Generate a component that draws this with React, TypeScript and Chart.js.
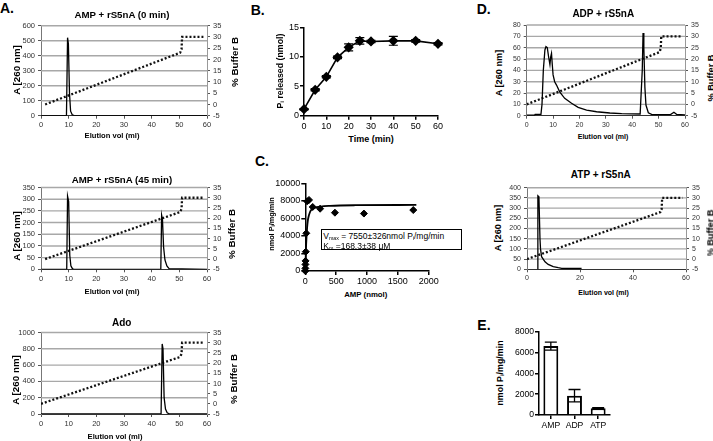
import React, { useEffect, useRef } from 'react';
import { Chart, registerables } from 'chart.js';

Chart.register(...registerables);

const FONT = "'Liberation Sans', Arial, Helvetica, sans-serif";

// ---------- data ----------
// Buffer B gradient (% Buffer B vs elution volume)
const bufferVolA = [1.5, 50.3, 50.8, 51, 58.7];
const bufferVol = [0, 50.3, 50.8, 51, 58.7];
const bufferPct = [0, 23, 24.5, 30, 30];

// A: AMP + rS5nA (0 min)
const amp0Vol = [0, 9.2, 9.6, 9.9, 10.3, 10.7, 11.3, 12, 60];
const amp0Abs = [0, 0, 520, 480, 150, 30, 6, 0, 0];

// A: AMP + rS5nA (45 min)
const amp45Vol = [0, 9.3, 9.6, 10.0, 10.4, 10.8, 11.4, 12, 43.3, 43.6, 43.9, 44.3, 44.8, 45.5, 46.3, 60];
const amp45Abs = [0, 0, 313, 290, 60, 15, 2, 0, 0, 232, 215, 96, 40, 14, 3, 0];

// A: Ado
const adoVol = [0, 43.4, 43.8, 44.1, 44.5, 45.0, 45.6, 46.5, 60];
const adoAbs = [0, 0, 860, 800, 200, 60, 15, 0, 0];

// D: ADP + rS5nA
const adpVol = [0, 3, 3.2, 5.4, 5.8, 6.3, 6.9, 7.3, 7.8, 8.3, 8.8, 9.1, 9.4, 9.7, 10, 10.6, 11.3, 12.5, 14.4, 17, 19.5, 22.7, 26.5, 31.5, 36, 43, 43.8, 44.1, 44.4, 44.8, 45.2, 46.1, 47.5, 54.5, 55.8, 56.8, 60];
const adpAbs = [0.5, 0.5, 1.2, 1.2, 10, 40, 58, 61, 60, 52, 45, 52, 55, 45, 36, 30, 27, 21, 15.3, 11, 7.4, 5, 3.5, 2.4, 1.8, 1.5, 40, 73, 60, 25, 9.4, 2.6, 1, 1, 3, 1.2, 0.8];

// D: ATP + rS5nA
const atpVol = [4.0, 4.1, 4.5, 4.9, 5.1, 5.5, 6.8, 8.0, 9.9, 11.8, 13.1, 15, 20.6];
const atpAbs = [0, 360, 355, 150, 100, 62, 37, 24, 13, 8, 5, 4, 4];

// B: Pi released vs time
const timeMin = [0, 5, 10, 15, 20, 25, 30, 40, 50, 60];
const piReleased = [1.1, 4.4, 6.6, 9.9, 11.6, 12.7, 12.6, 12.7, 12.7, 12.2];
const piErr = [0.1, 0.2, 0.2, 0.2, 0.6, 0.55, 0.2, 0.75, 0.2, 0.2];

// C: rate vs AMP
const ampConc = [0, 1, 2, 4, 8, 16, 30, 60, 120, 240, 480, 950, 1750];
const rate = [0, 300, 750, 1150, 2200, 4300, 7950, 8100, 7300, 7100, 6650, 6550, 6950];
const fitConc = [0, 5, 10, 20, 30, 40, 50, 75, 100, 150, 250, 400, 800, 1800];
const fitRate = [0, 1200, 2400, 3900, 5000, 5700, 6100, 6700, 7000, 7200, 7350, 7430, 7500, 7530];

// E: activity per nucleotide
const nucleotides = ['AMP', 'ADP', 'ATP'];
const activity = [6620, 1860, 640];
const activityErr = [380, 590, 60];

// ---------- helpers ----------
type Area = { x0: number; y0: number; x1: number; y1: number };
type Box = { left: number; top: number; width: number; height: number };

function dims(area: Area, box: Box) {
  return {
    leftW: area.x0 - box.left,
    rightW: box.left + box.width - area.x1,
    topPad: area.y0 - box.top,
    bottomH: box.top + box.height - area.y1,
  };
}

const plain = (v: any) => String(v);

const errorBars = {
  id: 'errorBars',
  afterDatasetsDraw(chart: any) {
    const ctx = chart.ctx;
    chart.data.datasets.forEach((ds: any, di: number) => {
      if (!ds.errors) return;
      const meta = chart.getDatasetMeta(di);
      const ys = chart.scales[meta.yAxisID];
      ctx.save();
      ctx.strokeStyle = '#000';
      ctx.lineWidth = ds.errLineWidth || 1.2;
      meta.data.forEach((el: any, i: number) => {
        const e = ds.errors[i];
        if (!e) return;
        const raw = ds.data[i];
        const v = typeof raw === 'number' ? raw : raw.y;
        const yt = ys.getPixelForValue(v + e);
        const yb = ys.getPixelForValue(v - e);
        const x = el.x;
        const c = ds.capHalf || 4;
        ctx.beginPath();
        ctx.moveTo(x, yt); ctx.lineTo(x, yb);
        ctx.moveTo(x - c, yt); ctx.lineTo(x + c, yt);
        ctx.moveTo(x - c, yb); ctx.lineTo(x + c, yb);
        ctx.stroke();
      });
      ctx.restore();
    });
  },
};

// horizontal gridlines at the left-axis ticks (Excel style)
const hGrid = {
  id: 'hGrid',
  beforeDatasetsDraw(chart: any) {
    const ys = chart.scales.y;
    const a = chart.chartArea;
    const ctx = chart.ctx;
    ctx.save();
    ctx.strokeStyle = '#a8a8a8';
    ctx.lineWidth = 1.4;
    ys.ticks.forEach((t: any) => {
      if (t.value === ys.min) return;
      const y = ys.getPixelForValue(t.value);
      ctx.beginPath();
      ctx.moveTo(a.left, y);
      ctx.lineTo(a.right, y);
      ctx.stroke();
    });
    ctx.restore();
  },
};

const baseOpts = {
  responsive: false,
  animation: false,
  events: [],
  plugins: { legend: { display: false }, tooltip: { enabled: false }, title: { display: false } },
};

function excelChart(area: Area, box: Box, yMax: number, yStep: number, xStep: number,
  vol: number[], abs: number[], bVol: number[], bPct: number[], fs: number) {
  const d = dims(area, box);
  const tf = { family: FONT, size: fs };
  return {
    type: 'line',
    data: {
      datasets: [
        { data: vol.map((v, i) => ({ x: v, y: abs[i] })), borderColor: '#000', borderWidth: 1.3, pointRadius: 0, yAxisID: 'y', tension: 0, fill: false },
        { data: bVol.map((v, i) => ({ x: v, y: bPct[i] })), borderColor: '#111', borderWidth: 2.3, borderDash: [2, 2], pointRadius: 0, yAxisID: 'y2', tension: 0, fill: false },
      ],
    },
    options: {
      ...baseOpts,
      layout: { padding: { top: d.topPad, left: 0, right: 0, bottom: 0 } },
      scales: {
        x: {
          type: 'linear', min: 0, max: 60,
          ticks: { stepSize: xStep, color: '#333', font: tf, padding: 2, maxRotation: 0, autoSkip: false, callback: plain },
          grid: { drawOnChartArea: false, tickLength: 3, color: '#555' },
          border: { color: '#333', width: 1 },
          afterFit: (s: any) => { s.height = d.bottomH; },
        },
        y: {
          type: 'linear', position: 'left', min: 0, max: yMax,
          ticks: { stepSize: yStep, color: '#333', font: tf, padding: 3, autoSkip: false, callback: plain },
          grid: { drawOnChartArea: false, tickLength: 3, color: '#555' },
          border: { color: '#777', width: 1 },
          afterFit: (s: any) => { s.width = d.leftW; },
        },
        y2: {
          type: 'linear', position: 'right', min: -5, max: 35,
          ticks: { stepSize: 5, color: '#333', font: tf, padding: 3, autoSkip: false, callback: plain },
          grid: { drawOnChartArea: false, tickLength: 3, color: '#555' },
          border: { color: '#999', width: 1 },
          afterFit: (s: any) => { s.width = d.rightW; },
        },
      },
    },
    plugins: [hGrid],
  };
}

function prismAxes(d: any, x: any, y: any, fs: number) {
  const tf = { family: FONT, size: fs };
  return {
    x: {
      ...x,
      ticks: { color: '#000', font: tf, padding: 1, maxRotation: 0, autoSkip: false, ...(x.ticks || {}) },
      grid: { drawOnChartArea: false, tickLength: 4, color: '#000', lineWidth: 1.5, ...(x.grid || {}) },
      border: { color: '#000', width: 1.5 },
      afterFit: (s: any) => { s.height = d.bottomH; },
    },
    y: {
      ...y,
      ticks: { color: '#000', font: tf, padding: 1, autoSkip: false, callback: plain, ...(y.ticks || {}) },
      grid: { drawOnChartArea: false, tickLength: 4, color: '#000', lineWidth: 1.5 },
      border: { color: '#000', width: 1.5 },
      afterFit: (s: any) => { s.width = d.leftW; },
    },
  };
}

// ---------- panels ----------
const boxA0: Box = { left: 18, top: 17, width: 212, height: 113 };
const areaA0: Area = { x0: 41, y0: 25.7, x1: 207, y1: 115.7 };
const boxA45: Box = { left: 18, top: 180, width: 212, height: 106 };
const areaA45: Area = { x0: 41, y0: 187.3, x1: 207, y1: 269.3 };
const boxAdo: Box = { left: 18, top: 325, width: 212, height: 105 };
const areaAdo: Area = { x0: 41, y0: 332.3, x1: 207, y1: 414 };
const boxADP: Box = { left: 508, top: 17, width: 198, height: 113 };
const areaADP: Area = { x0: 526.7, y0: 25, x1: 685, y1: 115.7 };
const boxATP: Box = { left: 508, top: 180, width: 198, height: 106 };
const areaATP: Area = { x0: 527, y0: 187.7, x1: 686, y1: 269.3 };
const boxB: Box = { left: 284, top: 18, width: 162, height: 114 };
const areaB: Area = { x0: 304, y0: 27.3, x1: 438, y1: 115.7 };
const boxC: Box = { left: 270, top: 175, width: 173, height: 112 };
const areaC: Area = { x0: 305.3, y0: 183.3, x1: 428.7, y1: 271 };
const boxE: Box = { left: 510, top: 324, width: 108, height: 110 };
const areaE: Area = { x0: 539, y0: 331.7, x1: 610, y1: 415 };

function configB() {
  const d = dims(areaB, boxB);
  return {
    type: 'line',
    data: {
      datasets: [{
        data: timeMin.map((t, i) => ({ x: t, y: piReleased[i] })),
        errors: piErr, capHalf: 4.5, errLineWidth: 1.2,
        borderColor: '#000', borderWidth: 1.6, pointStyle: 'rectRot', pointRadius: 4,
        pointBackgroundColor: '#000', pointBorderColor: '#000', tension: 0, fill: false,
      }],
    },
    options: {
      ...baseOpts,
      clip: false,
      layout: { padding: { top: d.topPad, left: 0, right: d.rightW, bottom: 0 } },
      scales: prismAxes(d, { type: 'linear', min: 0, max: 60, ticks: { stepSize: 10, callback: plain } }, { min: 0, max: 15, ticks: { stepSize: 5 } }, 9),
    },
    plugins: [errorBars],
  };
}

function configC() {
  const d = dims(areaC, boxC);
  return {
    type: 'scatter',
    data: {
      datasets: [
        {
          data: ampConc.map((c, i) => ({ x: c, y: rate[i] })),
          pointStyle: 'rectRot', pointRadius: 3.5, pointBackgroundColor: '#000', pointBorderColor: '#000', showLine: false,
        },
        {
          data: fitConc.map((c, i) => ({ x: c, y: fitRate[i] })),
          showLine: true, borderColor: '#000', borderWidth: 1.8, pointRadius: 0, cubicInterpolationMode: 'monotone',
        },
      ],
    },
    options: {
      ...baseOpts,
      clip: false,
      layout: { padding: { top: d.topPad, left: 0, right: d.rightW, bottom: 0 } },
      scales: prismAxes(d, { type: 'linear', min: 0, max: 2000, ticks: { stepSize: 500, callback: plain } }, { min: 0, max: 10000, ticks: { stepSize: 2000 } }, 9),
    },
  };
}

function configE() {
  const d = dims(areaE, boxE);
  return {
    type: 'bar',
    data: {
      labels: nucleotides,
      datasets: [{
        data: activity, errors: activityErr, capHalf: 6, errLineWidth: 1.3,
        backgroundColor: '#fff', borderColor: '#000', borderWidth: 2,
        barPercentage: 0.63, categoryPercentage: 1,
      }],
    },
    options: {
      ...baseOpts,
      layout: { padding: { top: d.topPad, left: 0, right: d.rightW, bottom: 0 } },
      scales: prismAxes(d, { type: 'category', ticks: { padding: 1 }, grid: { offset: false } }, { min: 0, max: 8000, ticks: { stepSize: 2000 } }, 8.6),
    },
    plugins: [errorBars],
  };
}

function ChartCanvas({ box, make }: { box: Box; make: () => any }) {
  const ref = useRef<HTMLCanvasElement>(null);
  useEffect(() => {
    const chart = new Chart(ref.current as HTMLCanvasElement, make());
    return () => chart.destroy();
  }, []);
  return (
    <canvas
      ref={ref}
      width={box.width}
      height={box.height}
      style={{ position: 'absolute', left: box.left, top: box.top, width: box.width, height: box.height }}
    />
  );
}

function T({ x, y, size, bold = true, rot = false, children }: any) {
  return (
    <div
      style={{
        position: 'absolute', left: x, top: y,
        transform: `translate(-50%, -50%)${rot ? ' rotate(-90deg)' : ''}`,
        fontSize: size, fontWeight: bold ? 700 : 400, lineHeight: 1,
        whiteSpace: 'nowrap', color: '#000', fontFamily: FONT,
      }}
    >
      {children}
    </div>
  );
}

function Letter({ x, y, children }: any) {
  return (
    <div style={{ position: 'absolute', left: x, top: y - 1.8, fontSize: 14, fontWeight: 700, lineHeight: 1, fontFamily: FONT, color: '#000' }}>
      {children}
    </div>
  );
}

const subStyle: React.CSSProperties = { fontSize: '0.62em', verticalAlign: 'baseline', position: 'relative', top: '0.25em', lineHeight: 0 };

export default function App() {
  return (
    <div style={{ position: 'fixed', left: 0, top: 0, width: 713, height: 441, background: '#fff', overflow: 'hidden', fontFamily: FONT }}>
      <ChartCanvas box={boxA0} make={() => excelChart(areaA0, boxA0, 600, 100, 10, amp0Vol, amp0Abs, bufferVolA, bufferPct, 7.5)} />
      <ChartCanvas box={boxA45} make={() => excelChart(areaA45, boxA45, 350, 50, 10, amp45Vol, amp45Abs, bufferVolA, bufferPct, 7.5)} />
      <ChartCanvas box={boxAdo} make={() => excelChart(areaAdo, boxAdo, 1000, 200, 10, adoVol, adoAbs, bufferVol, bufferPct, 7.5)} />
      <ChartCanvas box={boxADP} make={() => excelChart(areaADP, boxADP, 80, 10, 10, adpVol, adpAbs, bufferVol, bufferPct, 7)} />
      <ChartCanvas box={boxATP} make={() => excelChart(areaATP, boxATP, 400, 50, 20, atpVol, atpAbs, bufferVol, bufferPct, 7)} />
      <ChartCanvas box={boxB} make={configB} />
      <ChartCanvas box={boxC} make={configC} />
      <ChartCanvas box={boxE} make={configE} />

      {/* panel letters */}
      <Letter x={0} y={3.3}>A.</Letter>
      <Letter x={250.7} y={5}>B.</Letter>
      <Letter x={255} y={156}>C.</Letter>
      <Letter x={476.7} y={4}>D.</Letter>
      <Letter x={477.3} y={319.3}>E.</Letter>

      {/* A titles */}
      <T x={122} y={15} size={9.7}>AMP + rS5nA (0 min)</T>
      <T x={122} y={179.5} size={9.7}>AMP + rS5nA (45 min)</T>
      <T x={121.7} y={322.5} size={10}>Ado</T>
      <T x={112} y={136} size={7.6}>Elution vol (ml)</T>
      <T x={112} y={292} size={7.6}>Elution vol (ml)</T>
      <T x={115} y={436.5} size={7.6}>Elution vol (ml)</T>
      <T x={16.7} y={70} size={9.8} rot>A [260 nm]</T>
      <T x={16.7} y={236} size={9.8} rot>A [260 nm]</T>
      <T x={16.2} y={380} size={9.8} rot>A [260 nm]</T>
      <T x={234.5} y={62} size={9.8} rot>% Buffer B</T>
      <T x={232} y={234} size={9.8} rot>% Buffer B</T>
      <T x={233.7} y={379} size={9.8} rot>% Buffer B</T>

      {/* D titles */}
      <T x={603.3} y={14} size={10}>ADP + rS5nA</T>
      <T x={600.8} y={174.5} size={10}>ATP + rS5nA</T>
      <T x={603} y={136.3} size={7}>Elution vol (ml)</T>
      <T x={603.5} y={292} size={7}>Elution vol (ml)</T>
      <T x={500} y={73} size={9.2} rot>A [260 nm]</T>
      <T x={499} y={228} size={9.2} rot>A [260 nm]</T>
      <T x={712} y={77.5} size={9.2} rot>% Buffer B</T>
      <T x={711} y={233} size={9.2} rot>% Buffer B</T>

      {/* B */}
      <T x={371} y={138.5} size={9}>Time (min)</T>
      <T x={280} y={71} size={8.8} rot>P<span style={subStyle}>i</span> released (nmol)</T>

      {/* C */}
      <T x={365.8} y={295} size={7.8}>AMP (nmol)</T>
      <T x={271.5} y={224} size={7.3} rot>nmol P<span style={subStyle}>i</span>/mg/min</T>
      <div style={{ position: 'absolute', left: 320.7, top: 229.3, width: 141, height: 20.7, border: '1.3px solid #000', boxSizing: 'border-box', background: '#fff' }} />
      <div style={{ position: 'absolute', left: 323.3, top: 232, fontSize: 8.5, lineHeight: 1, whiteSpace: 'nowrap', fontFamily: FONT }}>
        V<span style={subStyle}>max</span> = 7550±326nmol P<span style={subStyle}>i</span>/mg/min
      </div>
      <div style={{ position: 'absolute', left: 323.3, top: 242, fontSize: 8.5, lineHeight: 1, whiteSpace: 'nowrap', fontFamily: FONT }}>
        K<span style={subStyle}>m</span> =168.3±38 μM
      </div>

      {/* E */}
      <T x={499.8} y={373} size={8.9} rot>nmol P<span style={subStyle}>i</span>/mg/min</T>
    </div>
  );
}
